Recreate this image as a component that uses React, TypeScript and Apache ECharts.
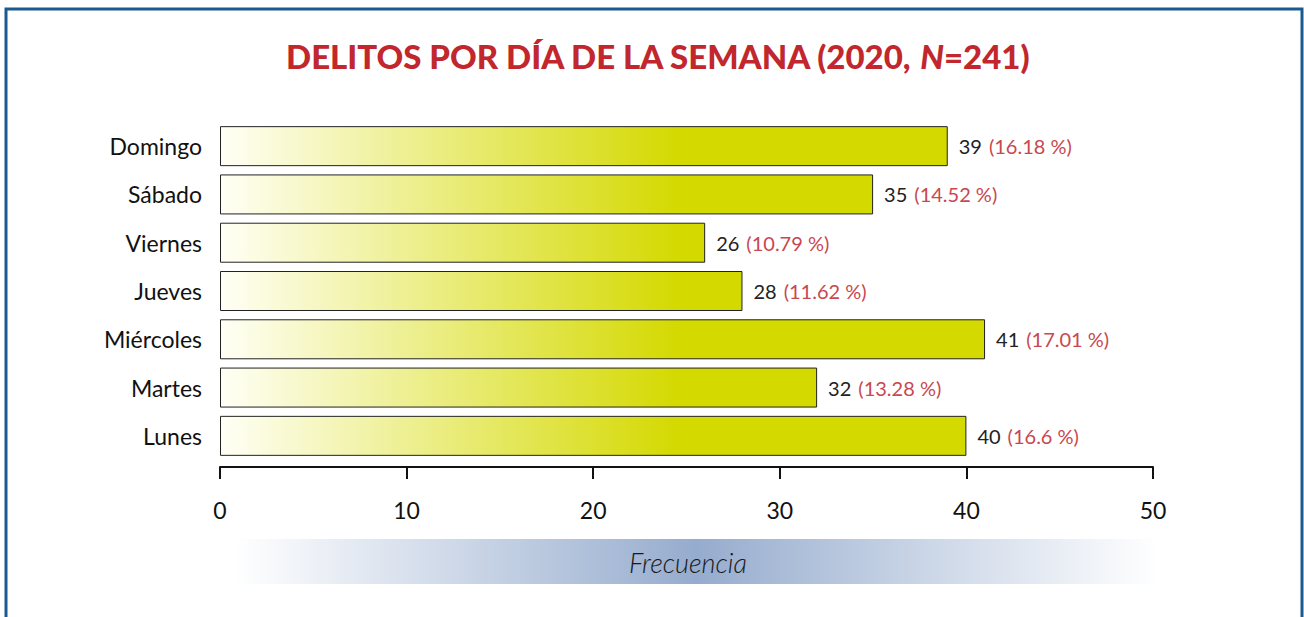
import React, { useEffect, useRef } from "react";
import * as echarts from "echarts";

const categories = ["Lunes", "Martes", "Miércoles", "Jueves", "Viernes", "Sábado", "Domingo"];
const values = [40, 32, 41, 28, 26, 35, 39];
const percents = ["16.6", "13.28", "17.01", "11.62", "10.79", "14.52", "16.18"];
const xTicks = [0, 10, 20, 30, 40, 50];

const FONT = "Lato, 'Noto Sans', sans-serif";

export default function App() {
  const ref = useRef<HTMLDivElement>(null);
  useEffect(() => {
    if (!ref.current) return;
    const chart = echarts.init(ref.current, undefined, { renderer: "svg" });
    chart.setOption({
      animation: false,
      backgroundColor: "#ffffff",
      textStyle: { fontFamily: FONT },
      title: {
        text: "DELITOS POR DÍA DE LA SEMANA (2020, {i|N}=241)",
        left: 652,
        top: 34,
        textAlign: "center",
        textStyle: {
          fontFamily: FONT,
          fontSize: 33,
          fontWeight: 900,
          color: "#c1272d",
          rich: {
            i: { fontFamily: FONT, fontSize: 33, fontWeight: 900, fontStyle: "italic", color: "#c1272d" },
          },
        },
      },
      grid: { left: 220, right: 151, top: 122, bottom: 157, containLabel: false },
      xAxis: {
        type: "value",
        min: xTicks[0],
        max: xTicks[xTicks.length - 1],
        interval: 10,
        offset: 7,
        axisLine: { show: true, lineStyle: { color: "#111", width: 2 } },
        axisTick: { show: true, length: 12, lineStyle: { color: "#111", width: 2 } },
        axisLabel: { margin: 31, fontSize: 23, color: "#111", fontFamily: FONT },
        splitLine: { show: false },
      },
      yAxis: {
        type: "category",
        data: categories,
        axisLine: { show: false },
        axisTick: { show: false },
        axisLabel: { margin: 18, fontSize: 23, color: "#111", fontFamily: FONT },
      },
      series: [
        {
          type: "bar",
          data: values,
          barWidth: 40,
          itemStyle: {
            borderColor: "#222",
            borderWidth: 1,
            color: new echarts.graphic.LinearGradient(
              220, 0, 680, 0,
              [
                { offset: 0, color: "#fffff6" },
                { offset: 1, color: "#d4d900" },
              ],
              true
            ),
          },
          label: {
            show: true,
            position: "right",
            distance: 11,
            formatter: (p: any) => `{v|${p.value}}{p|(${percents[p.dataIndex]} %)}`,
            rich: {
              v: { fontSize: 20, color: "#222", fontFamily: FONT, padding: [0, 7, 0, 0] },
              p: { fontSize: 20, color: "#c9474f", fontFamily: FONT },
            },
          },
        },
      ],
      graphic: [
        {
          type: "rect",
          shape: { x: 6, y: 9, width: 1296, height: 640 },
          style: { fill: "none", stroke: "#1a5a8f", lineWidth: 3 },
          silent: true,
        },
        {
          type: "rect",
          shape: { x: 235, y: 539, width: 923, height: 45 },
          style: {
            fill: new echarts.graphic.LinearGradient(0, 0, 1, 0, [
              { offset: 0, color: "rgba(152,174,207,0)" },
              { offset: 0.5, color: "rgba(150,172,206,1)" },
              { offset: 1, color: "rgba(152,174,207,0)" },
            ]),
          },
          silent: true,
        },
        {
          type: "text",
          x: 688,
          y: 562,
          style: {
            text: "Frecuencia",
            fontFamily: FONT,
            fontSize: 27,
            fontStyle: "italic",
            fontWeight: 300,
            fill: "#1a1a1a",
            align: "center",
            verticalAlign: "middle",
          },
          silent: true,
        },
      ],
    });
    return () => chart.dispose();
  }, []);
  return <div ref={ref} style={{ position: "fixed", left: 0, top: 0, width: 1304, height: 617 }} />;
}
